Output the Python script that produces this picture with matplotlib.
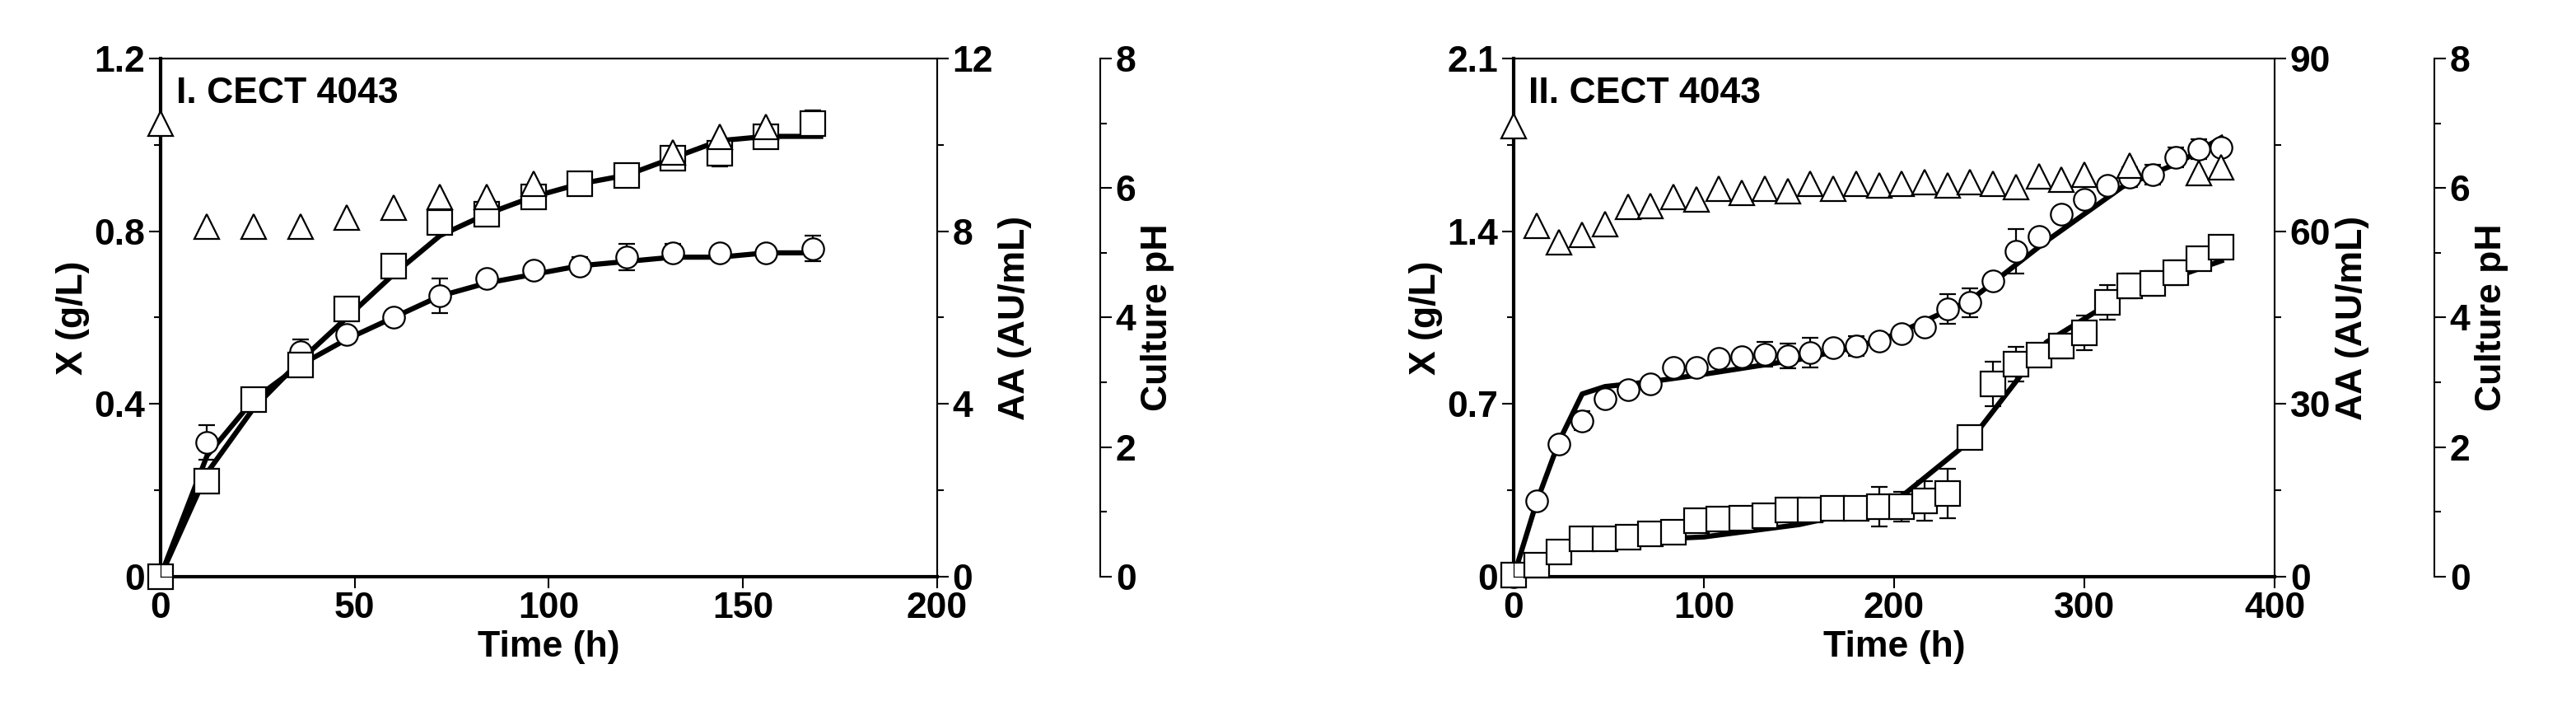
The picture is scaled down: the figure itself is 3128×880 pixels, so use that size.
import matplotlib.pyplot as plt
from matplotlib.ticker import MultipleLocator

plt.rcParams['font.family'] = ['Liberation Sans', 'DejaVu Sans']
plt.rcParams['font.weight'] = 'bold'
plt.rcParams['font.size'] = 32

# panel I (values in left-axis units)
t1 = [0, 12, 24, 36, 48, 60, 72, 84, 96, 108, 120, 132, 144, 156, 168]
sq1 = [0, 0.22, 0.41, 0.49, 0.62, 0.72, 0.82, 0.84, 0.88, 0.91, 0.93, 0.97, 0.98, 1.02, 1.05]
sq1_err = [0, 0.01, 0.01, 0.01, 0.01, 0.02, 0.01, 0.01, 0.01, 0.01, 0.01, 0.01, 0.03, 0.01, 0.03]
ci1 = [0, 0.31, 0.41, 0.52, 0.56, 0.60, 0.65, 0.69, 0.71, 0.72, 0.74, 0.75, 0.75, 0.75, 0.76]
ci1_err = [0, 0.04, 0.01, 0.03, 0.01, 0.01, 0.04, 0.01, 0.01, 0.02, 0.03, 0.02, 0.01, 0.01, 0.03]
ph1_t = [0, 12, 24, 36, 48, 60, 72, 84, 96, 132, 144, 156]
ph1 = [7.0, 5.4, 5.4, 5.4, 5.55, 5.7, 5.87, 5.87, 6.07, 6.55, 6.8, 6.95]
fit1_t = [0, 12, 24, 36, 48, 60, 72, 84, 96, 108, 120, 132, 144, 156, 170]
fit1_sq = [0, 0.24, 0.39, 0.50, 0.60, 0.70, 0.79, 0.84, 0.88, 0.91, 0.93, 0.97, 1.01, 1.02, 1.02]
fit1_ci = [0, 0.28, 0.41, 0.49, 0.55, 0.60, 0.65, 0.68, 0.70, 0.72, 0.73, 0.74, 0.74, 0.75, 0.75]

# panel II
t2 = list(range(0, 373, 12))
ci2 = [0, 0.306, 0.536, 0.632, 0.72, 0.758, 0.78, 0.846, 0.846, 0.883, 0.89, 0.90, 0.894, 0.908,
       0.928, 0.935, 0.953, 0.983, 1.01, 1.086, 1.11, 1.2, 1.32, 1.38, 1.47, 1.53, 1.586, 1.62,
       1.63, 1.70, 1.734, 1.74]
ci2_err = [0, 0, 0, 0.04, 0, 0.03, 0, 0.03, 0, 0, 0, 0.05, 0.05, 0.06, 0, 0.04, 0, 0, 0,
           0.06, 0.06, 0, 0.09, 0, 0, 0, 0, 0.04, 0.04, 0.04, 0.04, 0.02]
sq2 = [0.006, 0.047, 0.1, 0.154, 0.154, 0.158, 0.173, 0.178, 0.225, 0.232, 0.237, 0.247, 0.269,
       0.269, 0.277, 0.277, 0.284, 0.284, 0.306, 0.336, 0.562, 0.78, 0.861, 0.898, 0.935,
       0.987, 1.113, 1.18, 1.187, 1.231, 1.29, 1.335]
sq2_err = [0, 0, 0, 0.04, 0.04, 0, 0.03, 0.02, 0, 0, 0, 0, 0, 0, 0, 0, 0.08, 0.06, 0.08, 0.1,
           0, 0.09, 0.07, 0, 0.05, 0.07, 0.07, 0.05, 0.05, 0.05, 0, 0]
ph2_t = [0, 12, 24, 36, 48, 60, 72, 84, 96, 108, 120, 132, 144, 156, 168, 180, 192, 204, 216,
         228, 240, 252, 264, 276, 288, 300, 324, 360, 372]
ph2 = [6.96, 5.42, 5.17, 5.28, 5.45, 5.71, 5.73, 5.87, 5.82, 5.99, 5.93, 5.99, 5.96, 6.07, 5.99,
       6.07, 6.04, 6.07, 6.10, 6.04, 6.10, 6.07, 6.02, 6.18, 6.13, 6.21, 6.35, 6.24, 6.32]
fit2_t = [0, 12, 24, 36, 48, 72, 100, 150, 180, 200, 240, 280, 320, 350, 372]
fit2_ci = [0, 0.30, 0.55, 0.74, 0.77, 0.79, 0.82, 0.88, 0.93, 0.98, 1.12, 1.36, 1.58, 1.68, 1.78]
fit2_sq = [0, 0.05, 0.10, 0.12, 0.13, 0.15, 0.16, 0.21, 0.26, 0.30, 0.55, 0.95, 1.14, 1.22, 1.28]

fig = plt.figure(figsize=(31.28, 8.8), dpi=100)


def panel(rect, title, xmax, xstep, ymax, ystep, aamax, aastep,
          t, sq, sqe, ci, cie, pt, ph, ft, fsq, fci):
    ax = fig.add_axes(rect)
    ax.plot(ft, fsq, color='black', lw=4.5, zorder=2)
    ax.plot(ft, fci, color='black', lw=4.5, zorder=2)
    ax.errorbar(t, ci, yerr=cie, fmt='o', ms=19, mfc='white', mec='black', mew=1.6,
                ecolor='black', elinewidth=1.6, capsize=7, zorder=3)
    ax.errorbar(t, sq, yerr=sqe, fmt='s', ms=21, mfc='white', mec='black', mew=1.6,
                ecolor='black', elinewidth=1.6, capsize=7, zorder=3)
    ax.set_xlim(0, xmax)
    ax.set_ylim(0, ymax)
    ax.xaxis.set_major_locator(MultipleLocator(xstep))
    ax.yaxis.set_major_locator(MultipleLocator(ystep))
    ax.yaxis.set_minor_locator(MultipleLocator(ystep / 2))
    ax.set_yticklabels([('%g' % v) for v in ax.get_yticks()])
    ax.set_xlabel('Time (h)', fontweight='bold')
    ax.set_ylabel('X (g/L)', fontweight='bold')
    ax.text(0.02, 0.965, title, transform=ax.transAxes, va='top', fontsize=32, fontweight='bold')
    ax.tick_params(which='major', length=10, width=1.5)
    ax.tick_params(which='minor', length=6, width=1.5)
    for s in ax.spines.values():
        s.set_linewidth(1.5)
    ax.spines['bottom'].set_linewidth(3)
    ax.spines['left'].set_linewidth(3)

    ax2 = ax.twinx()
    ax2.set_ylim(0, aamax)
    ax2.yaxis.set_major_locator(MultipleLocator(aastep))
    ax2.yaxis.set_minor_locator(MultipleLocator(aastep / 2))
    ax2.set_ylabel('AA (AU/mL)', fontweight='bold')
    ax2.tick_params(which='major', length=10, width=1.5)
    ax2.tick_params(which='minor', length=6, width=1.5)

    ax3 = ax.twinx()
    ax3.spines['right'].set_position(('axes', 1.21))
    ax3.spines['right'].set_linewidth(1.5)
    ax3.set_ylim(0, 8)
    ax3.yaxis.set_major_locator(MultipleLocator(2))
    ax3.yaxis.set_minor_locator(MultipleLocator(1))
    ax3.plot(pt, ph, '^', ms=21, mfc='white', mec='black', mew=1.6, zorder=4)
    ax3.set_ylabel('Culture pH', fontweight='bold')
    ax3.tick_params(which='major', length=10, width=1.5)
    ax3.tick_params(which='minor', length=6, width=1.5)
    for ln in ax3.lines + ax.lines:
        ln.set_clip_on(False)
    return ax


panel([0.0623, 0.205, 0.3015, 0.714], 'I. CECT 4043', 200, 50, 1.2, 0.4, 12, 4,
      t1, sq1, sq1_err, ci1, ci1_err, ph1_t, ph1, fit1_t, fit1_sq, fit1_ci)
panel([0.5876, 0.205, 0.2954, 0.714], 'II. CECT 4043', 400, 100, 2.1, 0.7, 90, 30,
      t2, sq2, sq2_err, ci2, ci2_err, ph2_t, ph2, fit2_t, fit2_sq, fit2_ci)

fig.savefig('out.png', dpi=100)
plt.close(fig)
